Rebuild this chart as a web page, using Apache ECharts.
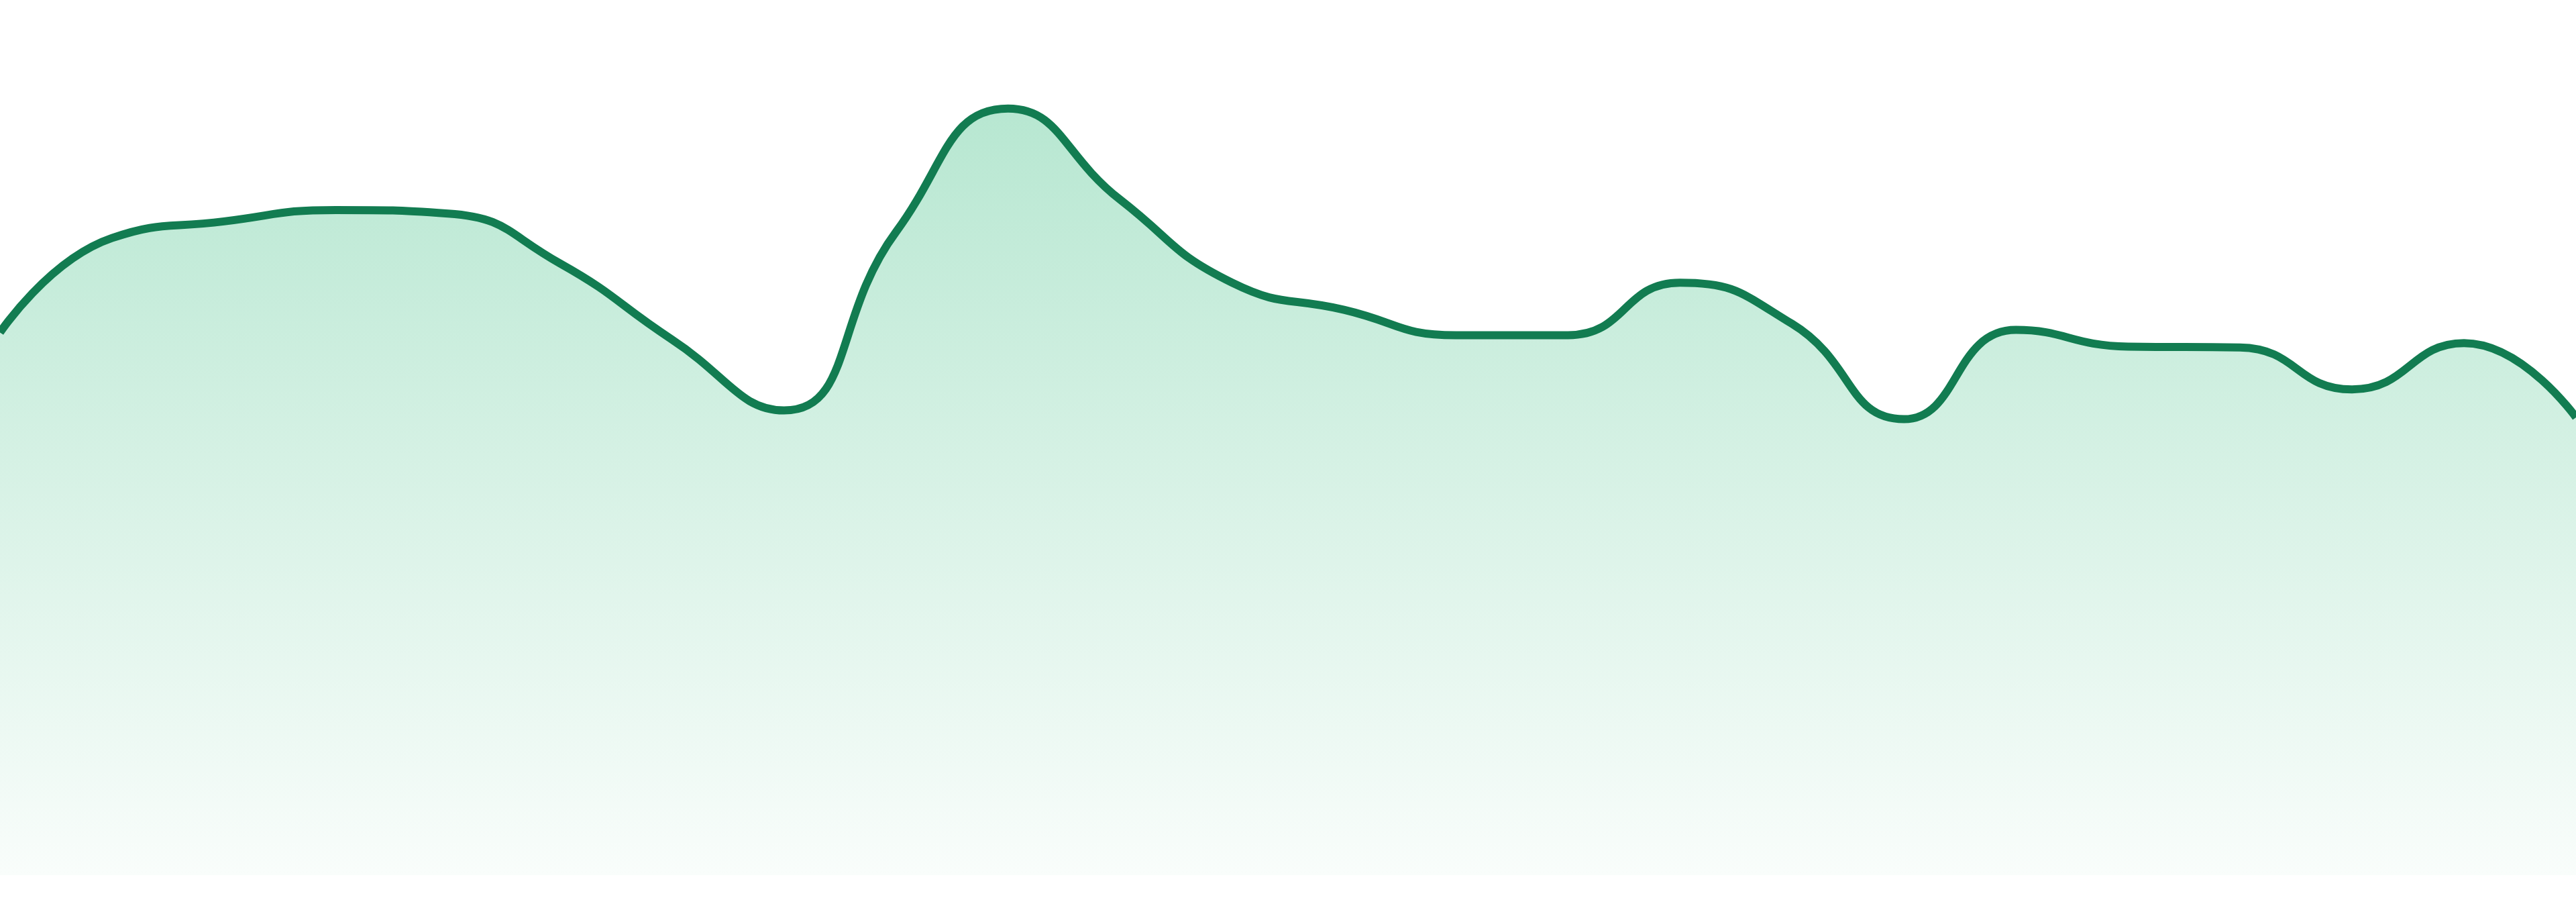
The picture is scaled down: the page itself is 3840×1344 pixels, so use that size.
<!DOCTYPE html>
<html>
<head>
<meta charset="utf-8">
<title>area</title>
<script src="https://cdn.jsdelivr.net/npm/echarts@6/dist/echarts.min.js"></script>
<style>
  html, body { margin: 0; padding: 0; background: #fff; }
  #chart { width: 3840px; height: 1344px; }
</style>
</head>
<body>
<div id="chart"></div>
<script>
// 24 points, no labels shown in the picture
var categories = [];
for (var i = 1; i <= 24; i++) categories.push(String(i));

var values = [62.0, 72.8, 74.7, 76.0, 75.6, 69.9, 61.2, 53.1, 73.5, 87.6, 77.2, 67.7,
              64.6, 61.7, 61.7, 67.7, 63.0, 52.1, 62.3, 60.4, 60.3, 55.5, 60.8, 52.3];

var yMin = 0;
var yMax = 100;

var chart = echarts.init(document.getElementById('chart'));
chart.setOption({
    animation: false,
    grid: { left: 0, right: 0, top: 0, bottom: 40 },
    xAxis: {
        type: 'category',
        data: categories,
        boundaryGap: false,
        show: false
    },
    yAxis: {
        type: 'value',
        min: yMin,
        max: yMax,
        show: false
    },
    series: [{
        type: 'line',
        data: values,
        smooth: true,
        // symbols kept but invisible
        symbolSize: 1,
        itemStyle: { opacity: 0 },
        lineStyle: { color: '#127c51', width: 12 },
        areaStyle: {
            opacity: 1,
            color: new echarts.graphic.LinearGradient(0, 0, 0, 1, [
                { offset: 0, color: '#b7e7d1' },   // top
                { offset: 1, color: '#f9fdfb' }    // fades out at the bottom
            ])
        }
    }]
});
</script>
</body>
</html>
